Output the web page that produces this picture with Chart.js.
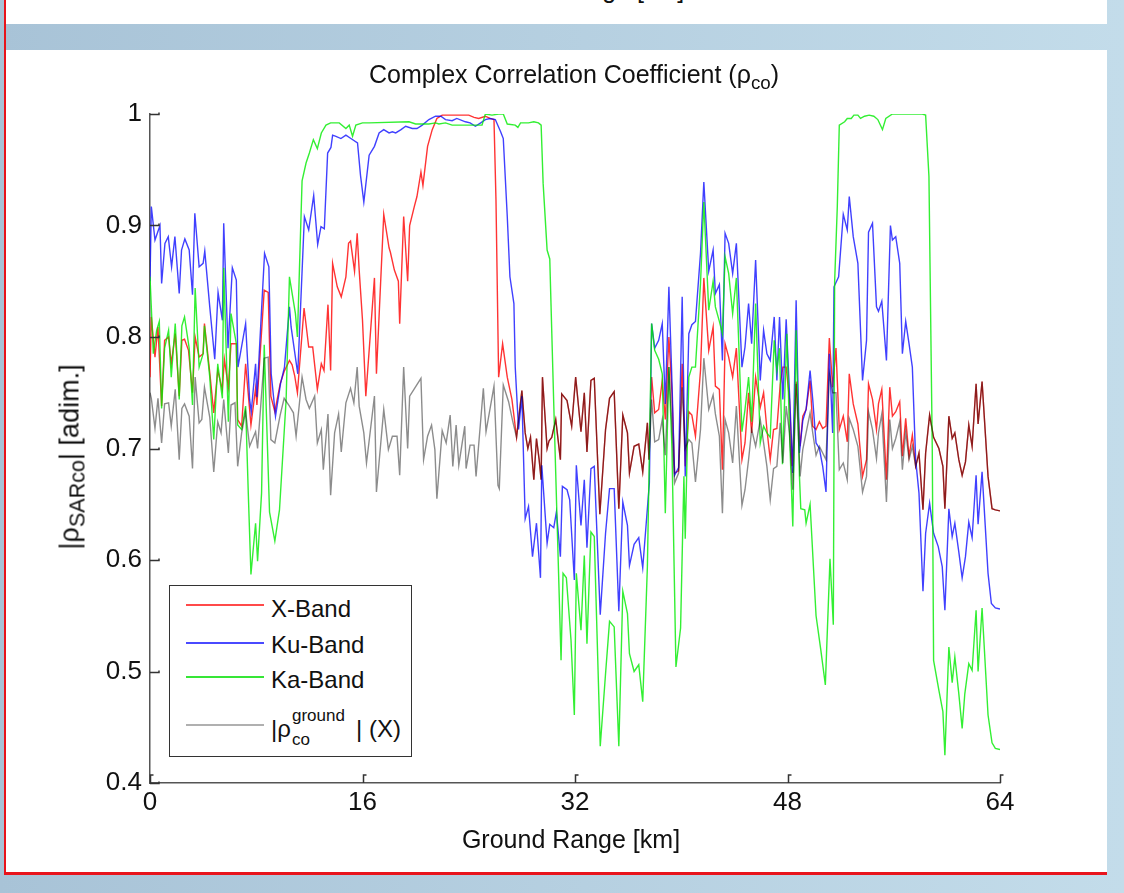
<!DOCTYPE html>
<html>
<head>
<meta charset="utf-8">
<script src="https://cdn.jsdelivr.net/npm/chart.js@4.4.1/dist/chart.umd.min.js"></script>
<style>
  body { margin: 0; width: 1124px; height: 893px; overflow: hidden; position: relative;
         background: linear-gradient(90deg, #a8c3d7, #c3dcea); font-family: "Liberation Sans", Arial, sans-serif; }
  #topPanel { position: absolute; left: 6px; top: 0; width: 1101px; height: 24px; background: #fff; overflow: hidden; }
  #panel { position: absolute; left: 6px; top: 50px; width: 1101px; height: 823px; background: #fff; }
  #redLeft { position: absolute; left: 4px; top: 0; width: 2px; height: 875px; background: #e8141c; }
  #redBottom { position: absolute; left: 4px; top: 872px; width: 1103px; height: 3px; background: #e8141c; }
  #chart { position: absolute; left: 0; top: 0; }
  .t { position: absolute; white-space: nowrap; line-height: 1; color: #111; }
  .sub { font-size: 0.75em; position: relative; top: 0.3em; }
  #legend { position: absolute; left: 169px; top: 585px; width: 243px; height: 172px; border: 1.5px solid #333; box-sizing: border-box; background: #fff; z-index: 2; }
  .lg { position: absolute; left: 16px; width: 78px; height: 2px; }
</style>
</head>
<body>
<div id="topPanel"><div class="t" style="left:460px; top:-23px; font-size:25px;">Ground Range [km]</div></div>
<div id="panel"></div>
<div id="redLeft"></div>
<div id="redBottom"></div>
<canvas id="chart" width="1124" height="893"></canvas>

<div class="t" style="left:574px; top:62px; font-size:25px; transform:translateX(-50%);">Complex Correlation Coefficient (ρ<span class="sub">co</span>)</div>
<div class="t" style="left:571px; top:827px; font-size:25px; transform:translateX(-50%);">Ground Range [km]</div>
<div class="t" style="left:70px; top:457px; font-size:27px; transform:translate(-50%,-50%) rotate(-90deg);">|ρ<span class="sub" style="font-size:0.8em">SARco</span>| [adim.]</div>

<div id="legend">
  <div class="lg" style="top:18px; background:#ff4a4a;"></div>
  <div class="lg" style="top:56px; background:#4a4aff;"></div>
  <div class="lg" style="top:90px; background:#36e636;"></div>
  <div class="lg" style="top:138px; background:#b0b0b0;"></div>
  <div class="t" style="left:101px; top:11px; font-size:24px;">X-Band</div>
  <div class="t" style="left:101px; top:47px; font-size:24px;">Ku-Band</div>
  <div class="t" style="left:101px; top:82px; font-size:24px;">Ka-Band</div>
  <div class="t" style="left:101px; top:131px; font-size:24px;">|ρ</div>
  <div class="t" style="left:122px; top:121px; font-size:17px;">ground</div>
  <div class="t" style="left:122px; top:145px; font-size:17px;">co</div>
  <div class="t" style="left:186px; top:131px; font-size:24px;">| (X)</div>
</div>

<script>
// Ground range ticks [km] and coherence ticks
const rangeTicks = [0, 16, 32, 48, 64];
const rhoTicks = [0.4, 0.5, 0.6, 0.7, 0.8, 0.9, 1];

// X-Band, first stretch (0 - 27.6 km), pairs [km, |rho|]
const xBandA = [[0,0.764],[0.1,0.818],[0.375,0.782],[0.6,0.809],[0.875,0.738],[1.1,0.797],[1.4,0.8],[1.6,0.776],[1.9,0.803],[2.2,0.747],[2.4,0.797],[2.6,0.798],[2.9,0.788],[3.2,0.75],[3.4,0.8],[3.7,0.782],[4.0,0.785],[4.1,0.812],[4.5,0.768],[4.8,0.732],[5.1,0.77],[5.45,0.753],[5.6,0.78],[5.9,0.755],[6.1,0.794],[6.5,0.794],[6.6,0.726],[6.9,0.72],[7.2,0.776],[7.5,0.735],[7.6,0.721],[7.95,0.754],[8.05,0.739],[8.6,0.842],[8.9,0.84],[9.1,0.747],[9.4,0.733],[9.8,0.758],[10.1,0.769],[10.5,0.779],[10.7,0.775],[10.9,0.765],[11.1,0.75],[11.6,0.826],[11.95,0.791],[12.25,0.791],[12.6,0.753],[12.9,0.776],[13.1,0.77],[13.4,0.829],[13.6,0.77],[13.75,0.866],[14.1,0.845],[14.4,0.836],[14.75,0.854],[14.95,0.884],[15.1,0.886],[15.4,0.859],[15.6,0.893],[15.75,0.86],[16.0,0.815],[16.25,0.747],[16.9,0.853],[17.05,0.767],[17.6,0.91],[18.0,0.88],[18.1,0.876],[18.4,0.86],[18.7,0.85],[18.8,0.812],[19.1,0.908],[19.4,0.85],[19.55,0.9],[19.9,0.917],[20.1,0.926],[20.4,0.948],[20.55,0.936],[20.9,0.971],[21.25,0.986],[21.6,0.996],[22.0,0.999],[23.0,0.999],[24.0,0.999],[24.4,0.997],[24.75,0.996],[25.25,0.998],[25.6,0.996],[25.9,0.995],[26.05,0.923],[26.25,0.764],[26.55,0.794],[26.9,0.764],[27.25,0.744],[27.6,0.71]];

// stretches where X-Band and ground coherence are the same curve
const overlapA = [[28.0,0.752],[28.25,0.714],[28.45,0.7],[28.65,0.71],[28.9,0.672],[29.1,0.709],[29.3,0.69],[29.45,0.672],[29.55,0.764],[29.9,0.7],[30.05,0.707],[30.25,0.71],[30.55,0.726],[30.9,0.69],[31.0,0.749],[31.4,0.743],[31.75,0.72],[32.05,0.764],[32.45,0.715],[32.7,0.75],[32.9,0.697],[33.2,0.761],[33.45,0.763],[33.87,0.641],[34.3,0.717],[34.6,0.745],[34.95,0.751],[35.3,0.646],[35.6,0.73],[35.95,0.714],[36.1,0.678],[36.45,0.702],[36.8,0.704],[37.1,0.679],[37.45,0.723],[37.57,0.69]];
const overlapB = [[57.65,0.684],[57.9,0.696],[58.2,0.645],[58.4,0.696],[58.7,0.73],[59.0,0.71],[59.4,0.7],[59.7,0.684],[59.85,0.646],[60.15,0.729],[60.4,0.709],[60.6,0.714],[60.9,0.69],[61.15,0.676],[61.4,0.688],[61.65,0.721],[61.9,0.702],[62.2,0.758],[62.35,0.722],[62.65,0.76],[63.1,0.675],[63.4,0.646],[63.65,0.645],[64.0,0.644]];

// X-Band, middle stretch (37.8 - 57.4 km)
const xBandB = [[37.77,0.764],[38.0,0.732],[38.3,0.735],[38.57,0.761],[38.8,0.726],[39.07,0.8],[39.3,0.75],[39.5,0.678],[39.8,0.68],[40.07,0.776],[40.3,0.684],[40.57,0.733],[40.8,0.73],[41.07,0.711],[41.45,0.77],[41.7,0.853],[42.07,0.788],[42.4,0.809],[42.57,0.756],[42.87,0.753],[43.1,0.681],[43.3,0.794],[43.57,0.782],[43.87,0.764],[44.15,0.79],[44.57,0.69],[44.8,0.705],[45.07,0.75],[45.3,0.714],[45.6,0.764],[45.95,0.737],[46.2,0.75],[46.45,0.717],[46.7,0.69],[46.95,0.717],[47.2,0.718],[47.45,0.757],[47.65,0.773],[47.9,0.773],[48.15,0.744],[48.35,0.684],[48.65,0.76],[48.95,0.702],[49.15,0.729],[49.4,0.735],[49.7,0.761],[49.9,0.72],[50.15,0.717],[50.4,0.724],[50.65,0.718],[50.9,0.72],[51.15,0.799],[51.4,0.755],[51.65,0.79],[51.9,0.717],[52.2,0.729],[52.5,0.706],[52.65,0.767],[52.95,0.74],[53.3,0.722],[53.65,0.675],[53.95,0.69],[54.1,0.758],[54.4,0.744],[54.7,0.717],[54.85,0.74],[55.1,0.753],[55.45,0.672],[55.7,0.755],[55.9,0.729],[56.15,0.733],[56.45,0.742],[56.65,0.693],[56.9,0.727],[57.15,0.693],[57.4,0.712]];

// ground coherence (X), first and middle stretches
const groundA = [[0,0.75],[0.1,0.745],[0.375,0.718],[0.6,0.745],[0.875,0.705],[1.1,0.74],[1.4,0.741],[1.6,0.72],[1.9,0.753],[2.2,0.69],[2.4,0.736],[2.6,0.74],[2.95,0.729],[3.2,0.682],[3.4,0.764],[3.7,0.723],[3.9,0.726],[4.1,0.755],[4.5,0.728],[4.8,0.679],[5.1,0.724],[5.35,0.714],[5.55,0.744],[5.9,0.696],[6.1,0.739],[6.4,0.741],[6.6,0.684],[6.9,0.714],[7.2,0.733],[7.5,0.702],[7.95,0.715],[8.1,0.7],[8.6,0.781],[8.9,0.782],[9.1,0.708],[9.4,0.705],[9.8,0.73],[10.1,0.745],[10.5,0.738],[10.8,0.732],[11.0,0.711],[11.45,0.764],[11.75,0.744],[12.0,0.736],[12.4,0.747],[12.6,0.705],[12.9,0.717],[13.05,0.681],[13.4,0.731],[13.6,0.658],[13.9,0.714],[14.2,0.731],[14.4,0.697],[14.75,0.741],[15.1,0.754],[15.35,0.741],[15.6,0.773],[15.75,0.738],[16.1,0.714],[16.3,0.687],[16.9,0.747],[17.05,0.661],[17.6,0.735],[17.95,0.699],[18.25,0.711],[18.6,0.711],[18.8,0.676],[19.1,0.773],[19.4,0.7],[19.55,0.747],[20.4,0.763],[20.6,0.69],[20.9,0.711],[21.2,0.721],[21.45,0.699],[21.6,0.655],[22.0,0.716],[22.3,0.705],[22.6,0.73],[22.8,0.684],[23.05,0.721],[23.25,0.685],[23.7,0.72],[23.8,0.682],[24.1,0.703],[24.4,0.703],[24.55,0.675],[25.1,0.754],[25.3,0.715],[25.9,0.756],[26.2,0.667],[26.3,0.664],[26.6,0.757],[27.0,0.742],[27.3,0.725],[27.6,0.71]];
const groundB = [[37.77,0.744],[38.0,0.706],[38.3,0.708],[38.57,0.726],[38.8,0.694],[39.07,0.773],[39.3,0.72],[39.5,0.669],[39.8,0.678],[40.07,0.755],[40.3,0.7],[40.57,0.708],[40.8,0.705],[41.07,0.67],[41.45,0.717],[41.7,0.781],[42.07,0.735],[42.4,0.748],[42.57,0.731],[42.87,0.711],[43.1,0.642],[43.3,0.726],[43.57,0.714],[43.87,0.687],[44.15,0.738],[44.57,0.649],[44.8,0.663],[45.07,0.69],[45.3,0.717],[45.6,0.702],[45.95,0.726],[46.2,0.705],[46.45,0.684],[46.7,0.654],[46.95,0.682],[47.2,0.684],[47.45,0.723],[47.65,0.687],[47.9,0.738],[48.15,0.714],[48.4,0.663],[48.65,0.758],[48.95,0.675],[49.15,0.699],[49.4,0.714],[49.7,0.732],[49.9,0.714],[50.15,0.694],[50.4,0.702],[50.65,0.696],[50.9,0.69],[51.15,0.767],[51.4,0.75],[51.65,0.75],[51.9,0.681],[52.2,0.687],[52.5,0.672],[52.65,0.727],[52.95,0.717],[53.3,0.702],[53.65,0.661],[53.95,0.675],[54.1,0.733],[54.4,0.717],[54.7,0.691],[54.85,0.714],[55.1,0.731],[55.45,0.652],[55.7,0.726],[55.9,0.7],[56.15,0.709],[56.45,0.724],[56.65,0.681],[56.9,0.715],[57.15,0.69],[57.4,0.702]];

// Ku-Band
const kuBand = [[0,0.85],[0.1,0.917],[0.375,0.887],[0.75,0.9],[0.875,0.848],[1.125,0.884],[1.375,0.89],[1.625,0.863],[1.875,0.89],[2.2,0.839],[2.375,0.878],[2.625,0.888],[2.95,0.878],[3.2,0.838],[3.375,0.911],[3.7,0.863],[4.0,0.866],[4.125,0.877],[4.5,0.827],[4.875,0.78],[5.125,0.84],[5.45,0.815],[5.55,0.902],[5.875,0.79],[6.2,0.862],[6.5,0.851],[6.625,0.773],[7.2,0.812],[7.5,0.744],[7.625,0.733],[7.95,0.776],[8.05,0.746],[8.625,0.875],[8.95,0.863],[9.125,0.767],[9.45,0.729],[9.825,0.758],[10.125,0.773],[10.5,0.827],[10.625,0.809],[11.125,0.767],[11.625,0.908],[11.95,0.896],[12.325,0.927],[12.625,0.883],[12.875,0.899],[13.125,0.897],[13.375,0.965],[13.625,0.97],[13.75,0.981],[14.0,0.98],[14.375,0.978],[14.75,0.981],[15.125,0.978],[15.625,0.974],[15.85,0.945],[16.1,0.921],[16.5,0.963],[16.9,0.971],[17.25,0.983],[17.6,0.986],[18.0,0.983],[18.25,0.984],[18.5,0.983],[18.9,0.986],[19.25,0.989],[19.75,0.987],[20.1,0.987],[20.5,0.99],[21.0,0.995],[21.5,0.998],[21.9,0.998],[22.25,0.995],[22.75,0.994],[23.1,0.996],[23.75,0.993],[24.1,0.992],[24.5,0.989],[24.9,0.992],[25.25,0.995],[25.6,0.996],[26.0,0.995],[26.4,0.984],[26.6,0.978],[26.9,0.908],[27.1,0.854],[27.4,0.83],[27.5,0.773],[27.75,0.717],[28.0,0.747],[28.25,0.637],[28.5,0.648],[28.8,0.603],[29.1,0.633],[29.4,0.584],[29.5,0.685],[29.9,0.615],[30.1,0.632],[30.4,0.629],[30.6,0.643],[30.9,0.603],[31.05,0.666],[31.4,0.663],[31.6,0.654],[31.95,0.582],[32.1,0.685],[32.45,0.631],[32.7,0.672],[32.9,0.611],[33.2,0.682],[33.45,0.684],[33.9,0.551],[34.3,0.624],[34.6,0.664],[34.95,0.664],[35.3,0.554],[35.6,0.652],[35.95,0.631],[36.1,0.595],[36.45,0.614],[36.8,0.62],[37.1,0.593],[37.6,0.669],[37.77,0.812],[38.0,0.79],[38.3,0.797],[38.57,0.812],[38.8,0.74],[39.07,0.845],[39.3,0.76],[39.5,0.676],[39.8,0.683],[40.07,0.836],[40.3,0.675],[40.57,0.803],[40.8,0.811],[41.07,0.814],[41.45,0.875],[41.7,0.939],[42.07,0.859],[42.4,0.878],[42.57,0.839],[42.87,0.847],[43.1,0.779],[43.3,0.893],[43.57,0.884],[43.87,0.857],[44.15,0.884],[44.57,0.773],[44.8,0.791],[45.07,0.83],[45.3,0.794],[45.6,0.869],[45.95,0.761],[46.2,0.806],[46.45,0.785],[46.7,0.779],[47.0,0.818],[47.2,0.761],[47.4,0.818],[47.65,0.744],[47.9,0.816],[48.15,0.75],[48.4,0.678],[48.65,0.833],[48.9,0.696],[49.15,0.725],[49.4,0.735],[49.7,0.77],[49.9,0.744],[50.15,0.705],[50.4,0.7],[50.65,0.684],[50.9,0.661],[51.15,0.785],[51.4,0.714],[51.5,0.845],[51.85,0.854],[52.2,0.91],[52.5,0.896],[52.65,0.926],[52.95,0.89],[53.3,0.866],[53.65,0.761],[53.95,0.797],[54.1,0.894],[54.4,0.902],[54.7,0.827],[54.85,0.823],[55.1,0.832],[55.45,0.779],[55.75,0.9],[55.9,0.887],[56.15,0.89],[56.45,0.866],[56.65,0.785],[56.9,0.814],[57.15,0.794],[57.4,0.773],[57.65,0.69],[57.9,0.66],[58.2,0.572],[58.4,0.624],[58.7,0.651],[59.0,0.624],[59.35,0.612],[59.65,0.594],[59.85,0.555],[60.15,0.646],[60.4,0.621],[60.6,0.633],[60.9,0.607],[61.15,0.584],[61.4,0.603],[61.65,0.634],[61.9,0.62],[62.2,0.676],[62.35,0.632],[62.65,0.679],[63.1,0.588],[63.35,0.561],[63.65,0.557],[64.0,0.556]];

// Ka-Band
const kaBand = [[0,0.854],[0.25,0.785],[0.5,0.806],[0.7,0.814],[0.875,0.736],[1.1,0.79],[1.4,0.806],[1.6,0.764],[1.9,0.812],[2.2,0.744],[2.4,0.81],[2.6,0.818],[2.95,0.79],[3.2,0.739],[3.4,0.844],[3.7,0.773],[4.0,0.785],[4.1,0.81],[4.5,0.764],[4.8,0.708],[5.1,0.776],[5.45,0.745],[5.55,0.862],[5.9,0.724],[6.1,0.821],[6.5,0.794],[6.6,0.721],[6.9,0.717],[7.2,0.738],[7.4,0.66],[7.6,0.587],[7.95,0.633],[8.1,0.599],[8.4,0.66],[8.6,0.793],[9.0,0.643],[9.4,0.617],[9.75,0.645],[10.25,0.744],[10.5,0.854],[10.95,0.821],[11.1,0.8],[11.45,0.94],[11.75,0.956],[12.0,0.965],[12.3,0.977],[12.6,0.969],[12.9,0.983],[13.25,0.99],[13.6,0.992],[14.25,0.992],[14.75,0.987],[15.0,0.99],[15.25,0.98],[15.5,0.99],[16.0,0.992],[16.5,0.992],[19.5,0.993],[20.0,0.991],[21.0,0.991],[21.5,0.992],[21.75,0.991],[22.25,0.992],[22.75,0.99],[23.25,0.99],[25.0,0.99],[25.25,1.0],[25.75,0.999],[26.25,1.0],[26.6,1.0],[26.9,0.991],[27.5,0.99],[27.7,0.988],[27.9,0.992],[28.5,0.992],[28.9,0.993],[29.25,0.992],[29.45,0.99],[29.6,0.938],[29.9,0.878],[30.1,0.87],[30.4,0.74],[30.95,0.51],[31.1,0.588],[31.35,0.584],[31.7,0.528],[31.95,0.461],[32.1,0.588],[32.45,0.537],[32.7,0.604],[32.9,0.525],[33.2,0.625],[33.45,0.621],[33.9,0.433],[34.3,0.498],[34.6,0.545],[34.95,0.54],[35.3,0.433],[35.6,0.572],[35.95,0.552],[36.1,0.516],[36.45,0.5],[36.8,0.506],[37.1,0.473],[37.45,0.594],[37.77,0.812],[38.0,0.788],[38.3,0.78],[38.57,0.767],[38.8,0.642],[39.07,0.773],[39.3,0.7],[39.6,0.504],[39.95,0.539],[40.2,0.675],[40.3,0.619],[40.57,0.764],[40.8,0.773],[41.07,0.773],[41.45,0.848],[41.7,0.921],[42.07,0.824],[42.4,0.85],[42.57,0.827],[42.87,0.814],[43.1,0.803],[43.3,0.872],[43.57,0.857],[43.87,0.821],[44.15,0.853],[44.57,0.715],[44.8,0.735],[45.07,0.764],[45.3,0.724],[45.6,0.83],[45.95,0.705],[46.2,0.72],[46.45,0.714],[46.7,0.71],[47.0,0.797],[47.2,0.77],[47.4,0.79],[47.62,0.686],[47.95,0.803],[48.15,0.714],[48.4,0.63],[48.65,0.806],[48.9,0.675],[49.0,0.646],[49.3,0.645],[49.4,0.633],[49.7,0.65],[50.15,0.55],[50.5,0.52],[50.85,0.488],[51.2,0.601],[51.45,0.542],[51.55,0.85],[51.75,0.917],[51.9,0.99],[52.3,0.993],[52.5,0.996],[52.8,0.996],[53.0,0.999],[53.3,0.999],[53.5,0.996],[53.8,0.998],[54.15,0.999],[54.5,0.998],[54.8,0.995],[55.15,0.986],[55.4,0.996],[55.9,1.0],[58.15,1.0],[58.4,0.999],[58.65,0.944],[58.9,0.7],[59.0,0.51],[59.4,0.483],[59.7,0.464],[59.85,0.425],[60.15,0.522],[60.4,0.49],[60.6,0.513],[60.9,0.48],[61.15,0.449],[61.35,0.48],[61.65,0.507],[61.9,0.501],[62.2,0.555],[62.35,0.5],[62.65,0.557],[63.1,0.461],[63.4,0.436],[63.65,0.431],[64.0,0.43]];

const toXY = arr => arr.map(p => ({ x: p[0], y: p[1] }));
const xBandAll = [...xBandA, ...overlapA, ...xBandB, ...overlapB];
const groundAll = [...groundA, ...overlapA, ...groundB, ...overlapB];

// ticks drawn inward, like the original figure
const inwardTicks = {
    id: 'inwardTicks',
    afterDraw(chart) {
        const { ctx, chartArea: a, scales: { x, y } } = chart;
        ctx.save();
        ctx.strokeStyle = '#333';
        ctx.lineWidth = 1.5;
        rhoTicks.forEach(v => {
            const py = Math.round(y.getPixelForValue(v)) + 0.5;
            ctx.beginPath();
            ctx.moveTo(a.left, py);
            ctx.lineTo(a.left + 9, py);
            ctx.lineTo(a.left + 9, py - 2);
            ctx.stroke();
        });
        rangeTicks.forEach(v => {
            const px = Math.round(x.getPixelForValue(v)) + 0.5;
            ctx.beginPath();
            ctx.moveTo(px, a.bottom);
            ctx.lineTo(px, a.bottom - 8);
            ctx.lineTo(px + 3, a.bottom - 8);
            ctx.stroke();
        });
        ctx.restore();
    }
};

Chart.defaults.font.family = '"Liberation Sans", Arial, sans-serif';

new Chart(document.getElementById('chart'), {
    type: 'line',
    data: {
        datasets: [
            { label: 'X-Band', data: toXY(xBandAll), borderColor: 'rgba(255,0,0,0.8)', order: 3 },
            { label: 'Ku-Band', data: toXY(kuBand), borderColor: 'rgba(0,0,255,0.75)', order: 2 },
            { label: 'Ka-Band', data: toXY(kaBand), borderColor: 'rgba(0,235,0,0.8)', order: 1 },
            { label: 'ground (X)', data: toXY(groundAll), borderColor: 'rgba(0,0,0,0.45)', order: 0 }
        ]
    },
    options: {
        responsive: false,
        animation: false,
        layout: { padding: { left: 0, top: 114, right: 124, bottom: 0 } },
        elements: { point: { radius: 0 }, line: { tension: 0, borderWidth: 1.4 } },
        plugins: { legend: { display: false }, title: { display: false }, tooltip: { enabled: false } },
        scales: {
            x: {
                type: 'linear', min: 0, max: 64,
                afterBuildTicks: s => { s.ticks = rangeTicks.map(v => ({ value: v })); },
                ticks: { font: { size: 26 }, color: '#111', padding: 4, maxRotation: 0 },
                grid: { drawOnChartArea: false, drawTicks: false },
                border: { color: '#555', width: 1.5 },
                afterFit: s => { s.height = 110; }
            },
            y: {
                min: 0.4, max: 1,
                afterBuildTicks: s => { s.ticks = rhoTicks.map(v => ({ value: v })); },
                ticks: { font: { size: 26 }, color: '#111', padding: 8,
                         callback: v => (v === 1 ? '1' : v.toFixed(1)) },
                grid: { drawOnChartArea: false, drawTicks: false },
                border: { color: '#555', width: 1.5 },
                afterFit: s => { s.width = 150; }
            }
        }
    },
    plugins: [inwardTicks]
});
</script>
</body>
</html>
